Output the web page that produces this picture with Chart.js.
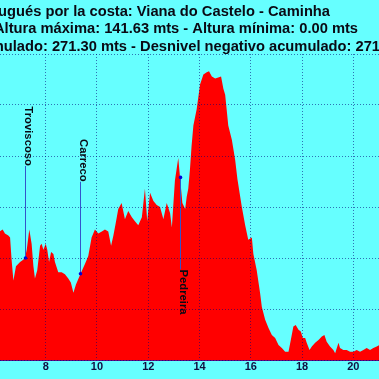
<!DOCTYPE html>
<html>
<head>
<meta charset="utf-8">
<script src="https://cdn.jsdelivr.net/npm/chart.js@4.4.1/dist/chart.umd.min.js"></script>
<style>
  html, body { margin: 0; padding: 0; background: #66ffff; overflow: hidden; }
  canvas { display: block; }
</style>
</head>
<body>
<canvas id="c" width="379" height="379"></canvas>
<script>
// ---- Data ----
const titleLines = [
  "Camino Portugués por la costa: Viana do Castelo - Caminha",
  "Altura máxima: 141.63 mts - Altura mínima: 0.00 mts",
  "Desnivel positivo acumulado: 271.30 mts - Desnivel negativo acumulado: 271.30 mts"
];

// distance along the route (km)
const distanceKm = [
  6.20, 6.32, 6.41, 6.54, 6.61, 6.67, 6.74, 6.84, 7.00, 7.11, 7.19, 7.26, 7.36, 7.45, 7.52, 7.58,
  7.67, 7.78, 7.84, 7.91, 8.00, 8.06, 8.13, 8.21, 8.30, 8.36, 8.49, 8.62, 8.75, 8.88, 8.98, 9.08,
  9.18, 9.35, 9.53, 9.66, 9.79, 9.92, 10.05, 10.19, 10.31, 10.44, 10.55, 10.64, 10.73, 10.83, 10.96,
  11.09, 11.22, 11.36, 11.48, 11.61, 11.75, 11.87, 11.96, 12.07, 12.20, 12.33, 12.46, 12.59, 12.72,
  12.85, 12.92, 13.04, 13.17, 13.24, 13.33, 13.44, 13.50, 13.56, 13.63, 13.69, 13.76, 13.89, 14.02,
  14.15, 14.28, 14.37, 14.48, 14.61, 14.73, 14.84, 14.93, 15.00, 15.12, 15.26, 15.39, 15.48, 15.65,
  15.78, 15.90, 16.04, 16.10, 16.23, 16.36, 16.43, 16.56, 16.69, 16.82, 16.95, 17.08, 17.21, 17.34,
  17.47, 17.56, 17.66, 17.75, 17.86, 17.95, 18.03, 18.12, 18.18, 18.29, 18.38, 18.51, 18.64, 18.77,
  18.87, 18.96, 19.09, 19.22, 19.29, 19.42, 19.48, 19.61, 19.74, 19.87, 20.00, 20.13, 20.26, 20.39,
  20.52, 20.65, 20.78, 20.91, 21.02
];

// altitude (m)
const altitudeM = [
  63, 64, 62, 61, 60, 49, 39, 46, 48, 49, 50, 54, 64, 57, 46, 40,
  44, 56, 57, 54, 57, 54, 48, 53, 52, 48, 43, 43, 42, 40, 38, 33,
  37, 42, 47, 51, 60, 64, 62, 63, 64, 63, 56, 61, 67, 74, 77,
  69, 73, 70, 68, 66, 70, 84, 68, 82, 78, 76, 75, 69, 77,
  72, 65, 88, 99, 89.5, 77, 74, 80, 84, 94, 105, 115, 123, 135,
  140, 141, 141.6, 139, 138, 138.5, 139, 133, 130, 115, 108, 98, 88.5, 75,
  66, 59, 60, 52, 44, 33, 26, 19.7, 15.7, 12.3, 10.8, 7.4, 5.9, 4,
  4, 9.8, 16.4, 17.2, 14.8, 14, 10.8, 10.8, 8.4, 4.9, 6.6, 8.4, 9.8, 11.5,
  12.3, 9, 6.6, 4.9, 3.3, 8.4, 5.9, 4.9, 4.9, 4, 4, 4.9, 4, 4.9,
  5.9, 4.9, 5.9, 6.6, 7.4
];

// named waypoints
const waypointNames = ["Troviscoso", "Carreco", "Pedreira"];
const waypointKm = [7.19, 9.35, 13.24];
const waypointAlt = [50, 42.3, 89.5];

// axes
const xRange = [6.217, 21.0];
const xTickStep = 2;
const yRange = [0, 150];
const yTickStep = 25;

// ---- Plugins ----
const titlePlugin = {
  id: 'profileTitle',
  afterDraw(chart) {
    const ctx = chart.ctx;
    ctx.save();
    ctx.font = 'bold 14.7px "Liberation Sans", Arial, sans-serif';
    ctx.fillStyle = '#0a0a14';
    ctx.textBaseline = 'alphabetic';
    const aligns = ['right', 'right', 'left'];
    const anchors = [330, 358, -159.5];
    const baselines = [15.5, 33, 50.5];
    titleLines.forEach((t, i) => {
      ctx.textAlign = aligns[i];
      ctx.fillText(t, anchors[i], baselines[i]);
    });
    ctx.restore();
  }
};

const waypointPlugin = {
  id: 'waypoints',
  afterDatasetsDraw(chart) {
    const ctx = chart.ctx;
    const xs = chart.scales.x, ys = chart.scales.y;
    const area = chart.chartArea;
    const gap = 92;
    ctx.save();
    ctx.font = 'bold 11.3px "Liberation Sans", Arial, sans-serif';
    waypointNames.forEach((name, i) => {
      const px = Math.round(xs.getPixelForValue(waypointKm[i])) + 0.5;
      const py = ys.getPixelForValue(waypointAlt[i]);
      const w = ctx.measureText(name).width;
      let textStart, lineFrom, lineTo;
      if (py - gap - w >= area.top) {
        textStart = py - gap - w;
        lineFrom = py - gap; lineTo = py;
      } else {
        textStart = py + gap;
        lineFrom = py; lineTo = py + gap;
      }
      ctx.strokeStyle = '#3355cc';
      ctx.lineWidth = 1;
      ctx.beginPath();
      ctx.moveTo(px, lineFrom);
      ctx.lineTo(px, lineTo);
      ctx.stroke();
      ctx.fillStyle = '#0000dd';
      ctx.beginPath();
      ctx.arc(px, py, 1.8, 0, Math.PI * 2);
      ctx.fill();
      ctx.save();
      ctx.translate(px - 0.5, textStart);
      ctx.rotate(Math.PI / 2);
      ctx.fillStyle = '#0a0a14';
      ctx.textAlign = 'left';
      ctx.textBaseline = 'alphabetic';
      ctx.fillText(name, 0, 0);
      ctx.restore();
    });
    ctx.restore();
  }
};

// ---- Chart ----
new Chart(document.getElementById('c'), {
  type: 'line',
  data: {
    datasets: [{
      data: distanceKm.map((k, i) => ({ x: k, y: altitudeM[i] })),
      backgroundColor: '#ff0000',
      borderColor: '#ff0000',
      borderWidth: 0,
      pointRadius: 0,
      fill: 'origin',
      tension: 0
    }]
  },
  options: {
    responsive: false,
    animation: false,
    events: [],
    layout: { padding: { top: 54, left: 0, right: 0, bottom: 0 } },
    plugins: { legend: { display: false }, title: { display: false }, tooltip: { enabled: false } },
    scales: {
      x: {
        type: 'linear',
        min: xRange[0],
        max: xRange[1],
        afterFit(s) { s.height = 19; },
        ticks: {
          stepSize: xTickStep,
          includeBounds: false,
          padding: 0,
          color: '#101040',
          font: { family: '"Liberation Sans", Arial, sans-serif', size: 11, weight: 'bold' },
          maxRotation: 0
        },
        grid: { color: 'rgba(0,0,120,0.55)', drawTicks: false, z: 1 },
        border: { display: true, color: '#6a0a7a', width: 1, dash: [1, 2], z: 1 }
      },
      y: {
        type: 'linear',
        min: yRange[0],
        max: yRange[1],
        afterFit(s) { s.width = 0; },
        ticks: { stepSize: yTickStep, display: false },
        grid: { color: 'rgba(0,0,120,0.55)', drawTicks: false, z: 1 },
        border: { display: false, dash: [1, 2] }
      }
    }
  },
  plugins: [waypointPlugin, titlePlugin]
});
</script>
</body>
</html>
